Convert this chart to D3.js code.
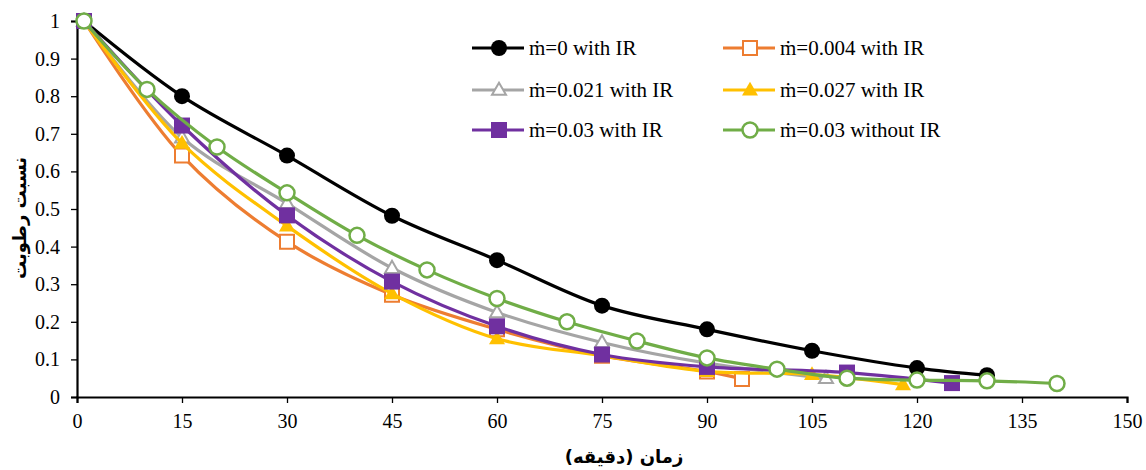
<!DOCTYPE html>
<html><head><meta charset="utf-8">
<script src="https://cdnjs.cloudflare.com/ajax/libs/d3/7.8.5/d3.min.js"></script>
<style>html,body{margin:0;padding:0;background:#fff;}svg{display:block;}</style>
</head><body><svg id="c" width="1146" height="470"></svg>
<script>
const xTicks = [0,15,30,45,60,75,90,105,120,135,150];
const yTicks = [0,0.1,0.2,0.3,0.4,0.5,0.6,0.7,0.8,0.9,1];
const yTickLabels = ["0","0.1","0.2","0.3","0.4","0.5","0.6","0.7","0.8","0.9","1"];
const seriesNames = ["ṁ=0 with IR","ṁ=0.004 with IR","ṁ=0.021 with IR","ṁ=0.027 with IR","ṁ=0.03 with IR","ṁ=0.03 without IR"];
const tBlack = [1,15,30,45,60,75,90,105,120,130];
const vBlack = [1,0.80,0.642,0.482,0.364,0.243,0.18,0.123,0.077,0.058];
const tOrange = [1,15,30,45,60,75,90,95];
const vOrange = [1,0.642,0.413,0.272,0.18,0.11,0.068,0.048];
const tGray = [1,15,30,45,60,75,90,107];
const vGray = [1,0.69,0.515,0.343,0.225,0.145,0.09,0.05];
const tYellow = [1,15,30,45,60,75,90,105,118];
const vYellow = [1,0.675,0.455,0.275,0.155,0.11,0.068,0.06,0.033];
const tPurple = [1,15,30,45,60,75,90,110,125];
const vPurple = [1,0.722,0.483,0.307,0.188,0.113,0.08,0.065,0.037];
const tGreen = [1,10,20,30,40,50,60,70,80,90,100,110,120,130,140];
const vGreen = [1,0.818,0.665,0.543,0.43,0.338,0.262,0.2,0.149,0.104,0.074,0.05,0.045,0.043,0.036];
const xTitle = "زمان (دقیقه)";
const yTitle = "نسبت رطوبت";

const series = [
  {name:seriesNames[0], t:tBlack, v:vBlack, color:"#000000", marker:"circle", fill:true},
  {name:seriesNames[1], t:tOrange, v:vOrange, color:"#ED7D31", marker:"square", fill:false},
  {name:seriesNames[2], t:tGray, v:vGray, color:"#A5A5A5", marker:"triangle", fill:false},
  {name:seriesNames[3], t:tYellow, v:vYellow, color:"#FFC000", marker:"triangle", fill:true},
  {name:seriesNames[4], t:tPurple, v:vPurple, color:"#7030A0", marker:"square", fill:true},
  {name:seriesNames[5], t:tGreen, v:vGreen, color:"#70AD47", marker:"circle", fill:false}
];

const svg = d3.select("#c");
const x = d3.scaleLinear().domain([0,150]).range([77,1127]);
const y = d3.scaleLinear().domain([0,1]).range([397,21]);
const serif = "'Liberation Serif','Times New Roman',serif";

const xAxis = svg.append("g").attr("transform","translate(0,397)")
  .call(d3.axisBottom(x).tickValues(xTicks).tickSize(6).tickPadding(11).tickFormat(d3.format("d")));
const yAxis = svg.append("g").attr("transform","translate(77,0)")
  .call(d3.axisLeft(y).tickValues(yTicks).tickSize(6).tickPadding(11).tickFormat((d,i)=>yTickLabels[i]));
[xAxis,yAxis].forEach(a=>{
  a.select(".domain").attr("stroke","#000").attr("stroke-width",2.2);
  a.selectAll(".tick line").attr("stroke","#000").attr("stroke-width",1.3);
  a.selectAll(".tick text").attr("font-family",serif).attr("font-size",20).attr("fill","#000");
});

function markerPath(type, size){
  if(type==="circle") return d3.symbol(d3.symbolCircle, size*size*Math.PI/4)();
  if(type==="square") return d3.symbol(d3.symbolSquare, size*size)();
  const h = size*Math.sqrt(3)/2;
  return `M0,${-h*0.6}L${size/2},${h*0.4}L${-size/2},${h*0.4}Z`;
}
function drawMarker(g, s, cx, cy){
  let size, sw;
  if(s.marker==="circle"){ size = s.fill?16:15; sw = s.fill?0:2.5; }
  else if(s.marker==="square"){ size = s.fill?16:14; sw = s.fill?0:2; }
  else { size = s.fill?16:14; sw = s.fill?0:2; }
  g.append("path").attr("d", markerPath(s.marker,size))
    .attr("transform",`translate(${cx},${cy})`)
    .attr("fill", s.fill? s.color : "#fff")
    .attr("stroke", s.color).attr("stroke-width", sw);
}

const line = d3.line().x(d=>x(d[0])).y(d=>y(d[1])).curve(d3.curveCatmullRom.alpha(0.5));
series.forEach(s=>{
  const g = svg.append("g");
  const pts = s.t.map((t,i)=>[t,s.v[i]]);
  g.append("path").datum(pts).attr("d",line).attr("fill","none")
    .attr("stroke",s.color).attr("stroke-width",3.2).attr("stroke-linejoin","round");
  pts.forEach(p=>drawMarker(g,s,x(p[0]),y(p[1])));
});

// legend
const legX = [472, 723], legY = [48, 90, 130];
series.forEach((s,i)=>{
  const col = i%2, row = Math.floor(i/2);
  const g = svg.append("g").attr("transform",`translate(${legX[col]},${legY[row]})`);
  g.append("line").attr("x1",0).attr("x2",52).attr("y1",0).attr("y2",0)
    .attr("stroke",s.color).attr("stroke-width",3.2);
  drawMarker(g,s,27,0);
  g.append("text").attr("x",57).attr("y",0).attr("dy","0.35em")
    .attr("font-family",serif).attr("font-size",21).attr("fill","#000").text(s.name);
});

svg.append("text").attr("x",624).attr("y",457).attr("dy","0.35em").attr("text-anchor","middle")
  .attr("font-family","'DejaVu Sans','Noto Sans',sans-serif").attr("font-weight","bold").attr("font-size",18)
  .attr("direction","rtl").text(xTitle);
svg.append("text").attr("transform","translate(20,218) rotate(-90)").attr("dy","0.35em").attr("text-anchor","middle")
  .attr("font-family","'DejaVu Sans','Noto Sans',sans-serif").attr("font-weight","bold").attr("font-size",18)
  .attr("direction","rtl").text(yTitle);
</script></body></html>
